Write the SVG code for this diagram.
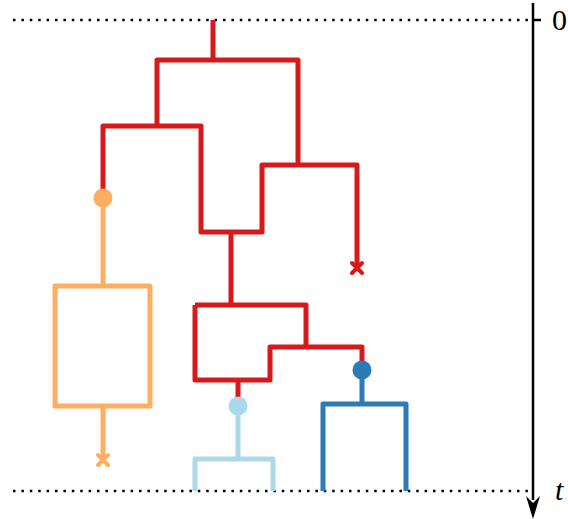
<svg xmlns="http://www.w3.org/2000/svg" width="568" height="519" viewBox="0 0 568 519">
<style>
.e{fill:none;stroke-width:5;stroke-linejoin:round;stroke-linecap:butt}
.r{stroke:#d7191c}.o{stroke:#fdae61}.lb{stroke:#abd9e9}.db{stroke:#2c7bb6}
.x{fill:none;stroke-width:4;stroke-linecap:round}
.dot{fill:none;stroke:#000;stroke-width:2.5;stroke-dasharray:2.5 5.9}
.lbl{font-family:"Liberation Serif",serif;font-size:30px;fill:#000}
</style>
<g id="axis">
<line class="dot" x1="13" y1="20" x2="528" y2="20"/>
<line class="dot" x1="13" y1="491" x2="528" y2="491"/>
<line x1="533" y1="3" x2="533" y2="500" stroke="#000" stroke-width="2.5"/>
<path d="M526,496 L533,503 L540,496 L533,519 Z" fill="#000"/>
<line x1="533" y1="20" x2="541" y2="20" stroke="#000" stroke-width="2.5"/>
<text class="lbl" x="552" y="30">0</text>
<text class="lbl" x="555" y="500" font-style="italic">t</text>
</g>
<g id="connectors">
<path class="e r" d="M213,20 V60 M157,126 V60 H298 V165"/>
<path class="e r" d="M103,198 V126 H201 V232 H262 V165 H357 V268"/>
<path class="e r" d="M231,232 V305 M238,406 V380 M195,305 V380 H270 V347 H362 V370 M195,305 H306 V347"/>
<path class="e o" d="M103,198 V286 M103,406 V460"/>
<rect class="e o" x="55" y="286" width="95" height="120"/>
<path class="e lb" d="M238,406 V459 M195,491 V459 H273 V491"/>
<path class="e db" d="M362,370 V404 M323,491 V404 H406 V491"/>
</g>
<g id="n_orange"><circle cx="103" cy="198" r="9.5" fill="#fdae61"/></g>
<g id="n_lightblue"><circle cx="238" cy="406" r="9.5" fill="#abd9e9"/></g>
<g id="n_darkblue"><circle cx="362" cy="370" r="9.5" fill="#2c7bb6"/></g>
<g id="x_red"><path class="x r" d="M352,263 L362,273 M362,263 L352,273"/></g>
<g id="x_orange"><path class="x o" d="M98,455 L108,465 M108,455 L98,465"/></g>
</svg>
